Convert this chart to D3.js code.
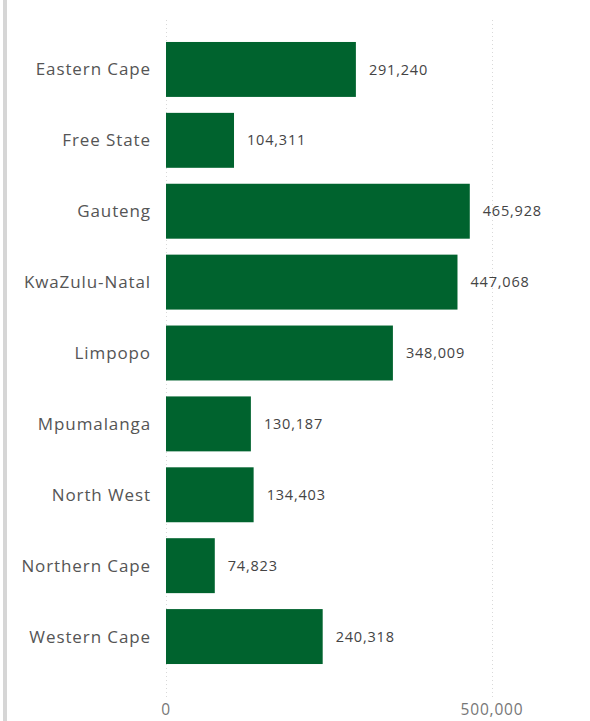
<!DOCTYPE html>
<html>
<head>
<meta charset="utf-8">
<script src="https://cdn.jsdelivr.net/npm/d3@7"></script>
<style>
  body { margin: 0; background: #fff; }
  svg { display: block; font-family: "Segoe UI", "Open Sans", sans-serif; }
</style>
</head>
<body>
<svg id="chart" width="590" height="721"></svg>
<script>
const provinces = ['Eastern Cape', 'Free State', 'Gauteng', 'KwaZulu-Natal', 'Limpopo',
    'Mpumalanga', 'North West', 'Northern Cape', 'Western Cape'];
const counts = [291240, 104311, 465928, 447068, 348009, 130187, 134403, 74823, 240318];
const xTicks = [0, 500000];

const data = provinces.map((p, i) => ({ name: p, value: counts[i] }));
const fmt = d3.format(',');

const svg = d3.select('#chart');

// panel border on the left
svg.append('rect')
    .attr('x', 3).attr('y', 0)
    .attr('width', 4).attr('height', 721)
    .attr('fill', '#d6d6d6');

let xScale = d3.scaleLinear()
    .domain([0, 500000])
    .range([166, 492]);
let yScale = d3.scaleBand()
    .domain(provinces)
    .range([34, 672])
    .paddingInner(0.225)
    .paddingOuter(0.1125);

// dotted gridlines
svg.append('g').selectAll('line')
    .data(xTicks)
    .enter().append('line')
    .attr('x1', d => xScale(d) + 0.5)
    .attr('x2', d => xScale(d) + 0.5)
    .attr('y1', 20)
    .attr('y2', 698)
    .attr('stroke', '#d9d9d9')
    .attr('stroke-dasharray', '1,3');

// bars
svg.append('g').selectAll('rect')
    .data(data)
    .enter().append('rect')
    .attr('x', xScale(0))
    .attr('y', d => yScale(d.name))
    .attr('width', d => xScale(d.value) - xScale(0))
    .attr('height', yScale.bandwidth())
    .attr('fill', '#00632e');

// value labels
svg.append('g').selectAll('text')
    .data(data)
    .enter().append('text')
    .attr('x', d => xScale(d.value) + 13)
    .attr('y', d => yScale(d.name) + yScale.bandwidth() / 2)
    .attr('dy', '0.35em')
    .attr('font-size', 14.5)
    .attr('letter-spacing', 0.8)
    .attr('fill', '#444')
    .text(d => fmt(d.value));

// category labels
svg.append('g').selectAll('text')
    .data(data)
    .enter().append('text')
    .attr('x', 151)
    .attr('y', d => yScale(d.name) + yScale.bandwidth() / 2)
    .attr('dy', '0.35em')
    .attr('text-anchor', 'end')
    .attr('font-size', 17)
    .attr('letter-spacing', 0.9)
    .attr('fill', '#555')
    .text(d => d.name);

// x axis tick labels
svg.append('g').selectAll('text')
    .data(xTicks)
    .enter().append('text')
    .attr('x', d => xScale(d))
    .attr('y', 715)
    .attr('text-anchor', 'middle')
    .attr('font-size', 15.5)
    .attr('letter-spacing', 0.8)
    .attr('fill', '#777')
    .text(d => fmt(d));
</script>
</body>
</html>
